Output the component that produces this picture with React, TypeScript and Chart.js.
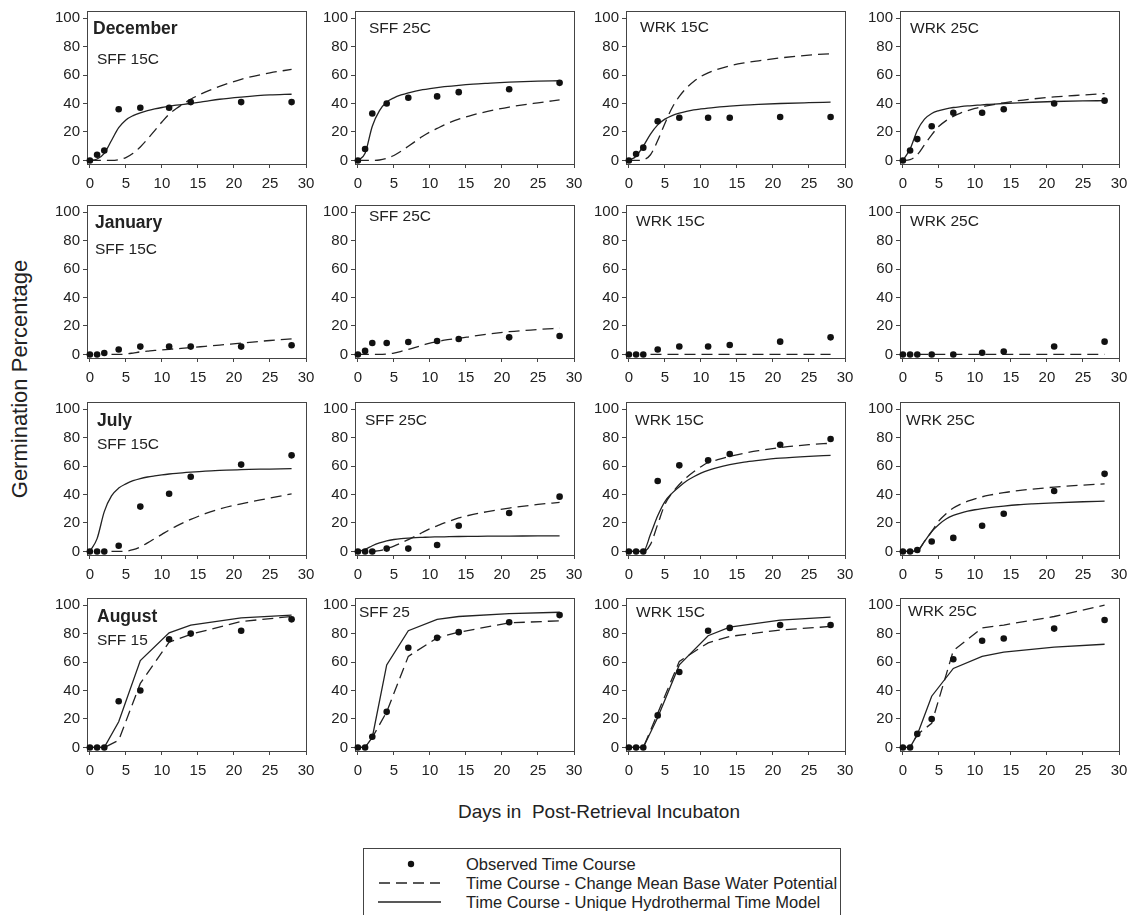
import React, { useEffect, useRef } from "react";
import { Chart, registerables } from "chart.js";
Chart.register(...registerables);

// ---------- data ----------
const obsDays = [0, 1, 2, 4, 7, 11, 14, 21, 28];
const modelDays = [0, 1, 2, 3, 4, 5, 6, 7, 8, 9, 10, 11, 12, 14, 16, 18, 21, 25, 28];
const xTickValues = [0, 5, 10, 15, 20, 25, 30];
const yTickValues = [0, 20, 40, 60, 80, 100];

// December
const decSff15Obs = [0, 4, 7, 36, 37, 37, 41, 41, 41];
const decSff15Solid = [0, 1, 5, 14, 23, 28.5, 31.5, 33.5, 35, 36.2, 37.2, 38, 38.8, 40, 41.5, 43, 44.5, 46, 46.5];
const decSff15Dashed = [0, 0, 0, 0, 0.5, 2, 5, 9.5, 15, 21, 27, 32.5, 36.5, 43, 48, 52, 57, 61.5, 64];
const decSff25Obs = [0, 8, 33, 40, 44, 45, 48, 50, 54.5];
const decSff25Solid = [0, 5, 24, 35, 41, 44, 46, 47.5, 48.7, 49.7, 50.5, 51.2, 51.8, 52.8, 53.6, 54.2, 55, 55.7, 56];
const decSff25Dashed = [0, 0, 0, 0.3, 1.5, 3.5, 6.5, 10, 13.5, 17, 20, 22.5, 25, 29, 32, 34.5, 37.5, 40.5, 42.5];
const decWrk15Obs = [0, 4.5, 9, 27.5, 30, 30, 30, 30.5, 30.5];
const decWrk15Solid = [0, 3, 10, 18.5, 25, 29, 31.5, 33.2, 34.5, 35.5, 36.2, 36.8, 37.3, 38.2, 38.9, 39.4, 40, 40.6, 41];
const decWrk15Dashed = [0, 0, 0.5, 4, 14, 26, 37, 45, 51, 55.5, 59, 61.5, 63.5, 66.5, 68.5, 70, 72, 74, 75];
const decWrk25Obs = [0, 7, 15, 24, 33.5, 33.5, 36, 40, 42];
const decWrk25Solid = [0, 8, 21, 29, 33, 35, 36.3, 37.2, 37.8, 38.3, 38.7, 39.1, 39.4, 40, 40.5, 40.9, 41.4, 41.8, 42];
const decWrk25Dashed = [0, 0.5, 4, 11, 18, 24, 28, 31, 33.3, 35, 36.5, 37.7, 38.7, 40.5, 42, 43.2, 44.6, 46, 47];

// January
const janSff15Obs = [0, 0, 1, 3.5, 5.5, 5.5, 5.5, 5.5, 6.5];
const janSff15Dashed = [null, null, null, 0, 0, 0.3, 1, 1.8, 2.3, 2.8, 3.2, 3.6, 4, 4.8, 5.7, 6.6, 8, 9.8, 11];
const janSff25Obs = [0, 2.5, 8, 8, 8.7, 9.4, 10.8, 12, 13];
const janSff25Dashed = [0, 0, 0, 0, 0.3, 1, 2.2, 3.5, 5, 6.5, 8, 9, 10, 11.3, 12.8, 14.2, 16, 17.5, 18.5];
const janWrk15Obs = [0, 0, 0, 3.5, 5.6, 5.6, 6.6, 9, 12];
const janWrk15Dashed = [null, null, null, 0, 0, 0, 0, 0, 0, 0, 0, 0, 0, 0, 0, 0, 0, 0, 0];
const janWrk25Obs = [0, 0, 0, 0, 0, 1.2, 2, 5.6, 9];
const janWrk25Dashed = [null, null, 0, 0, 0, 0, 0, 0, 0, 0, 0, 0, 0, 0, 0, 0, 0, 0, 0];

// July
const julSff15Obs = [0, 0, 0, 4, 31.5, 40.5, 52.5, 61, 67.5];
const julSff15Solid = [0, 9, 28, 39, 44.5, 47.5, 49.7, 51.2, 52.3, 53.1, 53.8, 54.4, 54.9, 55.7, 56.4, 56.9, 57.5, 57.9, 58.2];
const julSff15Dashed = [null, null, null, 0, 0, 0.2, 1.2, 3.2, 6, 9, 12, 15, 17.8, 22.5, 26.5, 29.8, 33.5, 37.5, 40.5];
const julSff25Obs = [0, 0, 0, 2, 2, 4.5, 18, 27, 38.5];
const julSff25Solid = [0, 1.5, 4, 6, 7.5, 8.4, 9, 9.4, 9.7, 9.9, 10.1, 10.2, 10.3, 10.5, 10.6, 10.7, 10.8, 10.9, 11];
const julSff25Dashed = [null, null, 0, 0.5, 2, 3.8, 6, 8.3, 10.8, 13.5, 16, 18, 20, 23.5, 26, 28, 30.5, 33, 34.5];
const julWrk15Obs = [0, 0, 0, 49.5, 60.5, 64, 68.5, 75, 79];
const julWrk15Solid = [0, 0, 0, 12, 25, 35, 41, 45.5, 49.5, 52.5, 55, 57, 58.5, 61, 62.8, 64, 65.5, 66.8, 67.5];
const julWrk15Dashed = [0, 0, 0, 5, 19, 33, 41, 47, 52, 56, 59.5, 62.5, 64, 66.8, 69, 70.8, 73, 75, 76];
const julWrk25Obs = [0, 0, 1, 7, 9.5, 18, 26.5, 42.5, 54.5];
const julWrk25Solid = [0, 0, 0.5, 7, 14, 19, 22.8, 25.3, 27, 28.3, 29.3, 30.1, 30.8, 31.9, 32.8, 33.4, 34.1, 34.9, 35.4];
const julWrk25Dashed = [0, 0, 0.5, 7, 14, 21.5, 26.5, 30.5, 33.2, 35.3, 37, 38.4, 39.5, 41.3, 42.7, 43.8, 45.2, 46.6, 47.5];

// August (model evaluated at the observation days)
const augSff15Obs = [0, 0, 0, 32.5, 40, 76, 80, 82, 90];
const augSff15Solid = [0, 0, 0, 18, 61, 80.5, 86, 91, 93];
const augSff15Dashed = [0, 0, 0, 5, 45, 74, 79.5, 88.5, 92];
const augSff25Obs = [0, 0, 7.5, 25, 70, 77, 81, 88, 93];
const augSff25Solid = [0, 0, 7, 58, 82, 90, 92, 94, 95];
const augSff25Dashed = [0, 0, 7, 25, 64, 77, 81, 87.5, 89];
const augWrk15Obs = [0, 0, 0, 22.5, 53, 82, 84, 86, 86];
const augWrk15Solid = [0, 0, 0, 21, 58, 78.5, 84.5, 89.5, 91.5];
const augWrk15Dashed = [0, 0, 0, 24, 60.5, 73.5, 78, 82.5, 85];
const augWrk25Obs = [0, 0, 9.5, 20, 62, 75, 76.5, 83.5, 89.5];
const augWrk25Solid = [0, 0, 9, 36, 55.5, 64, 67, 70.5, 72.5];
const augWrk25Dashed = [0, 0, 9, 17, 68, 84, 86, 92, 100];

const legendLabels = [
  "Observed Time Course",
  "Time Course - Change Mean Base Water Potential",
  "Time Course - Unique Hydrothermal Time Model",
];

// ---------- layout ----------
const FONT = "'Liberation Sans', Arial, Helvetica, sans-serif";
const INK = "#222";
const AXIS = "#444";
const colAxisX = [87, 355, 626, 900];
const rowFrameTop = [11, 205, 402, 598];
const PLOT_W = 219;
const PLOT_H = 153;
const YW = 44;
const PT = 8;
const PR = 14;
const XH = 30;

type Label = { text: string; bold?: boolean; dx: number; dy: number };
type PanelSpec = {
  r: number;
  c: number;
  obs: number[];
  curveX: number[];
  solid: (number | null)[] | null;
  dashed: (number | null)[] | null;
  smooth: boolean;
  labels: Label[];
};

const panels: PanelSpec[] = [
  { r: 0, c: 0, obs: decSff15Obs, curveX: modelDays, solid: decSff15Solid, dashed: decSff15Dashed, smooth: true,
    labels: [{ text: "December", bold: true, dx: 6, dy: 18 }, { text: "SFF 15C", dx: 10, dy: 49 }] },
  { r: 0, c: 1, obs: decSff25Obs, curveX: modelDays, solid: decSff25Solid, dashed: decSff25Dashed, smooth: true,
    labels: [{ text: "SFF 25C", dx: 14, dy: 18 }] },
  { r: 0, c: 2, obs: decWrk15Obs, curveX: modelDays, solid: decWrk15Solid, dashed: decWrk15Dashed, smooth: true,
    labels: [{ text: "WRK 15C", dx: 14, dy: 17 }] },
  { r: 0, c: 3, obs: decWrk25Obs, curveX: modelDays, solid: decWrk25Solid, dashed: decWrk25Dashed, smooth: true,
    labels: [{ text: "WRK 25C", dx: 10, dy: 18 }] },

  { r: 1, c: 0, obs: janSff15Obs, curveX: modelDays, solid: null, dashed: janSff15Dashed, smooth: true,
    labels: [{ text: "January", bold: true, dx: 8, dy: 18 }, { text: "SFF 15C", dx: 8, dy: 45 }] },
  { r: 1, c: 1, obs: janSff25Obs, curveX: modelDays, solid: null, dashed: janSff25Dashed, smooth: true,
    labels: [{ text: "SFF 25C", dx: 14, dy: 12 }] },
  { r: 1, c: 2, obs: janWrk15Obs, curveX: modelDays, solid: null, dashed: janWrk15Dashed, smooth: true,
    labels: [{ text: "WRK 15C", dx: 10, dy: 17 }] },
  { r: 1, c: 3, obs: janWrk25Obs, curveX: modelDays, solid: null, dashed: janWrk25Dashed, smooth: true,
    labels: [{ text: "WRK 25C", dx: 10, dy: 17 }] },

  { r: 2, c: 0, obs: julSff15Obs, curveX: modelDays, solid: julSff15Solid, dashed: julSff15Dashed, smooth: true,
    labels: [{ text: "July", bold: true, dx: 10, dy: 19 }, { text: "SFF 15C", dx: 10, dy: 43 }] },
  { r: 2, c: 1, obs: julSff25Obs, curveX: modelDays, solid: julSff25Solid, dashed: julSff25Dashed, smooth: true,
    labels: [{ text: "SFF 25C", dx: 10, dy: 19 }] },
  { r: 2, c: 2, obs: julWrk15Obs, curveX: modelDays, solid: julWrk15Solid, dashed: julWrk15Dashed, smooth: true,
    labels: [{ text: "WRK 15C", dx: 9, dy: 19 }] },
  { r: 2, c: 3, obs: julWrk25Obs, curveX: modelDays, solid: julWrk25Solid, dashed: julWrk25Dashed, smooth: true,
    labels: [{ text: "WRK 25C", dx: 6, dy: 19 }] },

  { r: 3, c: 0, obs: augSff15Obs, curveX: obsDays, solid: augSff15Solid, dashed: augSff15Dashed, smooth: false,
    labels: [{ text: "August", bold: true, dx: 10, dy: 19 }, { text: "SFF 15", dx: 10, dy: 43 }] },
  { r: 3, c: 1, obs: augSff25Obs, curveX: obsDays, solid: augSff25Solid, dashed: augSff25Dashed, smooth: false,
    labels: [{ text: "SFF 25", dx: 4, dy: 15 }] },
  { r: 3, c: 2, obs: augWrk15Obs, curveX: obsDays, solid: augWrk15Solid, dashed: augWrk15Dashed, smooth: false,
    labels: [{ text: "WRK 15C", dx: 10, dy: 15 }] },
  { r: 3, c: 3, obs: augWrk25Obs, curveX: obsDays, solid: augWrk25Solid, dashed: augWrk25Dashed, smooth: false,
    labels: [{ text: "WRK 25C", dx: 8, dy: 14 }] },
];

function toPoints(xs: number[], ys: (number | null)[]) {
  const out: { x: number; y: number }[] = [];
  xs.forEach((x, i) => {
    const y = ys[i];
    if (y !== null && y !== undefined) out.push({ x, y });
  });
  return out;
}

const framePlugin = {
  id: "frame",
  beforeDatasetsDraw(chart: any) {
    const { ctx, chartArea: a } = chart;
    ctx.save();
    ctx.strokeStyle = AXIS;
    ctx.lineWidth = 1;
    const l = Math.round(a.left) + 0.5;
    const t = Math.round(a.top) + 0.5;
    const r = Math.round(a.right) + 0.5;
    const b = Math.round(a.bottom) + 0.5;
    ctx.strokeRect(l, t, r - l, b - t);
    ctx.restore();
  },
};

const labelPlugin = {
  id: "panelLabels",
  afterDatasetsDraw(chart: any, _args: any, opts: any) {
    const { ctx, chartArea: a } = chart;
    const labels: Label[] = opts.labels || [];
    ctx.save();
    ctx.fillStyle = INK;
    ctx.textBaseline = "middle";
    ctx.textAlign = "left";
    labels.forEach((lb) => {
      ctx.font = lb.bold ? `bold 17.5px ${FONT}` : `15.5px ${FONT}`;
      ctx.fillText(lb.text, a.left + lb.dx, a.top + lb.dy);
    });
    ctx.restore();
  },
};

function fixScale(height?: number, width?: number) {
  return (s: any) => {
    if (height !== undefined) s.height = height;
    if (width !== undefined) s.width = width;
    s.paddingLeft = 0;
    s.paddingRight = 0;
    s.paddingTop = 0;
    s.paddingBottom = 0;
  };
}

function Panel({ spec }: { spec: PanelSpec }) {
  const ref = useRef<HTMLCanvasElement | null>(null);
  const W = YW + PLOT_W + PR;
  const H = PT + PLOT_H + XH;
  useEffect(() => {
    if (!ref.current) return;
    const datasets: any[] = [
      {
        type: "scatter",
        data: toPoints(obsDays, spec.obs),
        pointRadius: 3.3,
        pointBackgroundColor: "#111",
        pointBorderWidth: 0,
        showLine: false,
        clip: false,
      },
    ];
    const lineBase = {
      type: "line",
      borderColor: INK,
      borderWidth: 1.3,
      pointRadius: 0,
      fill: false,
      clip: false,
      tension: 0,
      cubicInterpolationMode: spec.smooth ? "monotone" : "default",
    };
    if (spec.solid) datasets.push({ ...lineBase, data: toPoints(spec.curveX, spec.solid) });
    if (spec.dashed) datasets.push({ ...lineBase, borderDash: [11, 6], data: toPoints(spec.curveX, spec.dashed) });

    const tickFont = { family: FONT, size: 15 };
    const chart = new Chart(ref.current, {
      type: "scatter",
      data: { datasets },
      options: {
        animation: false,
        responsive: false,
        events: [],
        layout: { padding: { top: PT, right: PR, left: 0, bottom: 0 } },
        plugins: {
          legend: { display: false },
          tooltip: { enabled: false },
          panelLabels: { labels: spec.labels },
        } as any,
        scales: {
          x: {
            type: "linear",
            min: -0.4,
            max: 30,
            afterBuildTicks: (s: any) => {
              s.ticks = xTickValues.map((v) => ({ value: v }));
            },
            afterFit: fixScale(XH, undefined),
            ticks: { font: tickFont, color: INK, padding: 7, autoSkip: false, maxRotation: 0, callback: (v: any) => String(v) },
            grid: { drawOnChartArea: false, drawTicks: true, tickLength: 4, color: AXIS, lineWidth: 1 },
            border: { display: true, color: AXIS, width: 1 },
          },
          y: {
            type: "linear",
            min: -2.5,
            max: 105,
            afterBuildTicks: (s: any) => {
              s.ticks = yTickValues.map((v) => ({ value: v }));
            },
            afterFit: fixScale(undefined, YW),
            ticks: { font: tickFont, color: INK, padding: 3, autoSkip: false, callback: (v: any) => String(v) },
            grid: { drawOnChartArea: false, drawTicks: true, tickLength: 4, color: AXIS, lineWidth: 1 },
            border: { display: true, color: AXIS, width: 1 },
          },
        },
      } as any,
      plugins: [framePlugin, labelPlugin],
    });
    return () => chart.destroy();
  }, [spec]);
  return (
    <canvas
      ref={ref}
      width={W}
      height={H}
      style={{
        position: "absolute",
        left: colAxisX[spec.c] - YW,
        top: rowFrameTop[spec.r] - PT,
        width: W,
        height: H,
      }}
    />
  );
}

export default function App() {
  return (
    <div
      style={{
        position: "absolute",
        left: 0,
        top: 0,
        width: 1133,
        height: 915,
        overflow: "hidden",
        background: "#fff",
        fontFamily: FONT,
        color: INK,
      }}
    >
      {panels.map((p, i) => (
        <Panel key={i} spec={p} />
      ))}
      <div
        style={{
          position: "absolute",
          left: 20,
          top: 379,
          transform: "translate(-50%, -50%) rotate(-90deg)",
          whiteSpace: "nowrap",
          fontSize: 22,
          lineHeight: "26px",
        }}
      >
        Germination Percentage
      </div>
      <div
        style={{
          position: "absolute",
          left: 599,
          top: 812,
          transform: "translate(-50%, -50%)",
          whiteSpace: "pre",
          fontSize: 19,
          lineHeight: "24px",
        }}
      >
        {"Days in  Post-Retrieval Incubaton"}
      </div>
      <div
        style={{
          position: "absolute",
          left: 363,
          top: 848,
          width: 478,
          height: 90,
          border: `1px solid ${AXIS}`,
          boxSizing: "border-box",
        }}
      >
        <svg width={100} height={70} style={{ position: "absolute", left: 0, top: 0 }}>
          <circle cx={47} cy={15} r={3.2} fill="#111" />
          <line x1={15} y1={34} x2={76} y2={34} stroke={INK} strokeWidth={1.3} strokeDasharray="11 6" />
          <line x1={14} y1={53} x2={77} y2={53} stroke={INK} strokeWidth={1.3} />
        </svg>
        {legendLabels.map((t, i) => (
          <div
            key={i}
            style={{
              position: "absolute",
              left: 102,
              top: 15 + i * 19 - 10,
              height: 20,
              lineHeight: "20px",
              fontSize: 16.5,
              whiteSpace: "nowrap",
            }}
          >
            {t}
          </div>
        ))}
      </div>
    </div>
  );
}
